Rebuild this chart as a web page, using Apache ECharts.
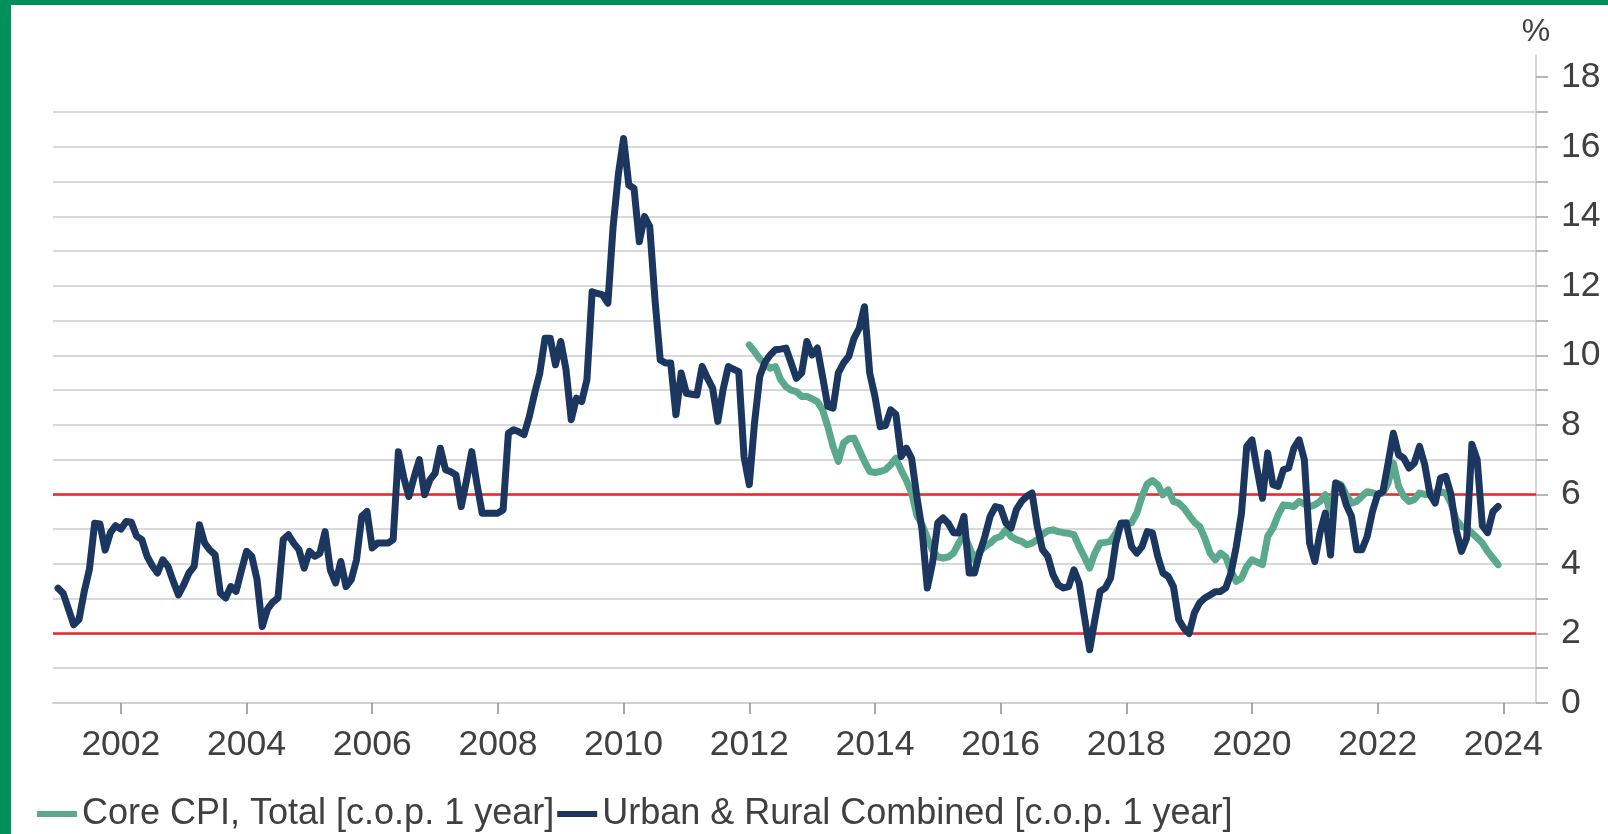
<!DOCTYPE html>
<html><head><meta charset="utf-8">
<script src="https://cdn.jsdelivr.net/npm/echarts@6/dist/echarts.min.js"></script>
<style>
html,body{margin:0;padding:0;background:#fff;overflow:hidden;}
#chart{position:absolute;left:0;top:0;width:1608px;height:834px;}
.frameTop{position:absolute;left:0;top:0;width:1608px;height:5px;background:#00915a;}
.frameLeft{position:absolute;left:0;top:0;width:11px;height:834px;background:#00915a;}
</style></head><body>
<div id="chart"></div>
<div class="frameTop"></div><div class="frameLeft"></div>
<script>
// ---- data ----
const urbanRuralStart = 2001; // Jan 2001, monthly
const urbanRural = [
 3.3,3.15,2.7,2.25,2.4,3.2,3.85,5.17,5.15,4.4,4.9,5.1,
 5.0,5.22,5.2,4.8,4.7,4.22,3.95,3.74,4.12,3.93,3.5,3.11,
 3.4,3.74,3.93,5.13,4.6,4.4,4.26,3.16,3.02,3.35,3.21,3.8,
 4.36,4.22,3.55,2.2,2.7,2.9,3.02,4.7,4.84,4.6,4.41,3.88,
 4.36,4.22,4.3,4.93,3.83,3.45,4.07,3.35,3.55,4.12,5.37,5.51,
 4.46,4.6,4.6,4.6,4.7,7.23,6.5,5.94,6.5,7.0,5.99,6.42,
 6.61,7.33,6.71,6.65,6.56,5.65,6.4,7.23,6.3,5.46,5.46,5.46,
 5.46,5.56,7.76,7.86,7.8,7.72,8.24,8.9,9.49,10.49,10.49,9.73,
 10.4,9.6,8.15,8.77,8.67,9.3,11.83,11.78,11.74,11.5,13.7,15.2,
 16.24,14.9,14.8,13.27,13.99,13.7,11.6,9.87,9.78,9.78,8.29,9.49,
 8.91,8.88,8.86,9.68,9.35,9.06,8.1,9.01,9.68,9.6,9.53,7.09,
 6.28,8.05,9.39,9.8,10.01,10.16,10.18,10.21,9.78,9.34,9.49,10.4,
 10.01,10.21,9.39,8.53,8.48,9.49,9.78,9.97,10.49,10.78,11.4,9.49,
 8.82,7.95,7.98,8.43,8.3,7.09,7.33,7.04,5.94,4.98,3.31,4.03,
 5.18,5.32,5.17,4.9,4.89,5.37,3.74,3.74,4.31,4.79,5.37,5.65,
 5.61,5.18,5.03,5.56,5.8,5.95,6.04,5.08,4.41,4.22,3.69,3.4,
 3.31,3.35,3.83,3.45,2.49,1.53,2.4,3.21,3.31,3.59,4.6,5.18,
 5.18,4.5,4.31,4.5,4.93,4.89,4.22,3.74,3.64,3.35,2.4,2.15,
 2.0,2.59,2.88,3.02,3.11,3.2,3.21,3.31,3.74,4.5,5.46,7.38,
 7.57,6.71,5.89,7.19,6.28,6.23,6.71,6.76,7.33,7.57,7.0,4.6,
 4.07,4.9,5.46,4.26,6.33,6.23,5.7,5.37,4.41,4.41,4.79,5.5,
 6.0,6.08,6.9,7.76,7.14,7.04,6.76,6.9,7.38,6.85,6.0,5.75,
 6.47,6.52,6.0,4.98,4.36,4.74,7.44,7.0,5.1,4.9,5.5,5.65
];
const coreStart = 2012; // Jan 2012, monthly
const coreCpi = [
 10.3,10.11,9.9,9.75,9.63,9.68,9.3,9.1,9.0,8.96,8.82,8.82,
 8.75,8.67,8.43,7.95,7.38,6.95,7.48,7.6,7.62,7.28,6.95,6.66,
 6.63,6.66,6.71,6.85,7.04,6.7,6.4,6.04,5.4,5.13,4.75,4.4,
 4.2,4.17,4.2,4.31,4.6,4.84,4.5,4.12,4.36,4.5,4.6,4.74,
 4.79,4.98,4.79,4.7,4.65,4.55,4.6,4.7,4.85,4.95,4.98,4.93,
 4.9,4.88,4.84,4.5,4.2,3.88,4.31,4.6,4.62,4.65,4.89,5.13,
 5.18,5.18,5.46,5.94,6.3,6.4,6.28,5.99,6.13,5.8,5.75,5.61,
 5.4,5.2,5.08,4.74,4.31,4.12,4.31,4.2,3.8,3.5,3.59,3.93,
 4.12,4.05,3.98,4.79,5.03,5.41,5.7,5.68,5.65,5.8,5.72,5.65,
 5.7,5.8,5.99,5.46,6.33,6.28,5.99,5.75,5.8,5.95,6.08,6.05,
 5.99,6.04,6.33,6.9,6.23,5.94,5.8,5.85,6.04,6.0,5.99,6.05,
 6.08,6.04,5.75,5.27,5.08,5.03,4.89,4.75,4.6,4.36,4.17,3.98
];
const targetBand = [2, 6];
const yearTicks = [2002,2004,2006,2008,2010,2012,2014,2016,2018,2020,2022,2024];
const yTickValues = [0,1,2,3,4,5,6,7,8,9,10,11,12,13,14,15,16,17,18];
const yLabelValues = [0,2,4,6,8,10,12,14,16,18];
const seriesNames = ['Core CPI, Total [c.o.p. 1 year]', 'Urban & Rural Combined [c.o.p. 1 year]'];

// ---- build ----
const toPairs = (arr, y0) => arr.map((v, i) => [y0 + i / 12, v]);
const font = 'Liberation Sans, Arial, sans-serif';
const txt = '#404040';
const chart = echarts.init(document.getElementById('chart'), null, {renderer: 'canvas'});
chart.setOption({
  animation: false,
  backgroundColor: '#ffffff',
  grid: {left: 53, right: 72, top: 55, bottom: 131, containLabel: false},
  legend: {
    left: 32, top: 791, itemGap: 3, itemWidth: 40, itemHeight: 6,
    icon: 'rect',
    textStyle: {fontFamily: font, fontSize: 36, color: txt},
    data: seriesNames
  },
  xAxis: {
    type: 'value', min: 2000.92, max: 2024.52,
    axisLine: {show: true, lineStyle: {color: '#d0d0d0', width: 2}},
    axisTick: {show: true, customValues: yearTicks, length: 11, lineStyle: {color: '#8c8c8c', width: 1.5}},
    axisLabel: {customValues: yearTicks, margin: 24, fontFamily: font, fontSize: 35.5, color: txt,
      formatter: v => String(Math.round(v))},
    splitLine: {show: false}
  },
  yAxis: {
    type: 'value', position: 'right', min: 0, max: 18.64, interval: 1,
    name: '%', nameLocation: 'end', nameGap: 7,
    nameTextStyle: {fontFamily: font, fontSize: 32, color: txt, align: 'center', verticalAlign: 'bottom'},
    axisLine: {show: true, lineStyle: {color: '#c8c8c8', width: 1.5}},
    axisTick: {show: true, customValues: yTickValues, length: 12, lineStyle: {color: '#a0a0a0', width: 1.5}},
    axisLabel: {customValues: yLabelValues, margin: 25, fontFamily: font, fontSize: 35.5, color: txt},
    splitLine: {show: true, showMaxLine: false, lineStyle: {color: '#d9d9d9', width: 2}}
  },
  series: [
    {
      name: seriesNames[0], type: 'line', data: toPairs(coreCpi, coreStart),
      showSymbol: false, symbol: 'none', z: 3,
      lineStyle: {color: '#5aa98d', width: 7, cap: 'round', join: 'round'}, itemStyle: {color: '#5aa98d'}
    },
    {
      name: seriesNames[1], type: 'line', data: toPairs(urbanRural, urbanRuralStart),
      showSymbol: false, symbol: 'none', z: 4,
      lineStyle: {color: '#1b365f', width: 7, cap: 'round', join: 'round'}, itemStyle: {color: '#1b365f'},
      markLine: {
        silent: true, symbol: 'none', z: 1,
        label: {show: false},
        lineStyle: {color: '#e8262b', width: 2.5, type: 'solid'},
        data: targetBand.map(v => ({yAxis: v}))
      }
    }
  ]
});
</script>
</body></html>
